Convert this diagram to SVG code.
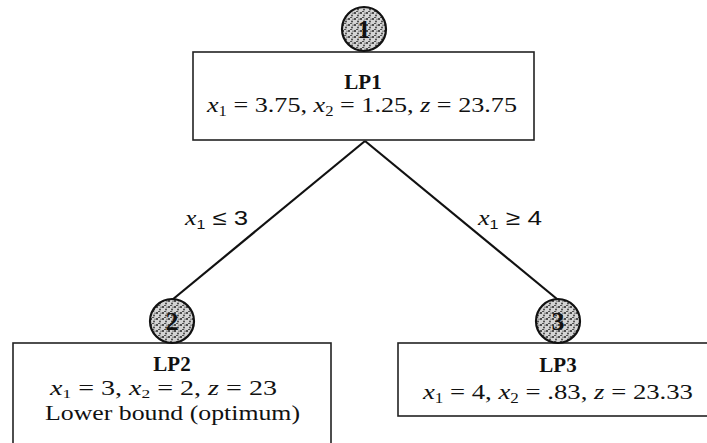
<svg xmlns="http://www.w3.org/2000/svg" width="707" height="443" viewBox="0 0 707 443">
<style>
.box{fill:#fff;stroke:#222;stroke-width:1.6}
.edge{stroke:#111;stroke-width:2.2;fill:none}
.t{font-family:"Liberation Serif","Times New Roman",serif;font-size:22px;fill:#111}
.t2{font-size:21px}
.b{font-family:"Liberation Serif","Times New Roman",serif;font-size:21px;font-weight:bold;fill:#111}
.i{font-style:italic}
.lab{font-family:"Liberation Sans",Arial,sans-serif;font-size:21px;fill:#111}
.circ{fill:url(#stip);stroke:#111;stroke-width:2.2}
.num{font-family:"Liberation Serif",serif;font-size:26px;font-weight:bold;fill:#111;text-anchor:middle}
</style>
<defs>
<pattern id="stip" width="6" height="6" patternUnits="userSpaceOnUse">
<rect width="6" height="6" fill="#d4d4d4"/>
<circle cx="1" cy="1" r="1" fill="#222"/>
<circle cx="4" cy="3.5" r="0.9" fill="#333"/>
<rect x="2" y="5" width="2.2" height="0.9" fill="#444"/>
<rect x="4.5" y="0.5" width="1" height="1.5" fill="#555"/>
</pattern>
</defs>
<g id="connectors">
<line class="edge" x1="365" y1="141" x2="172" y2="300"/>
<line class="edge" x1="365" y1="141" x2="557" y2="299"/>
<text class="lab" x="185" y="225" textLength="63" lengthAdjust="spacingAndGlyphs"><tspan class="i" font-family="Liberation Serif">x</tspan><tspan font-size="13" dy="4">1</tspan><tspan dy="-4"> ≤ 3</tspan></text>
<text class="lab" x="478" y="225" textLength="64" lengthAdjust="spacingAndGlyphs"><tspan class="i" font-family="Liberation Serif">x</tspan><tspan font-size="13" dy="4">1</tspan><tspan dy="-4"> ≥ 4</tspan></text>
</g>
<g id="node1">
<rect class="box" x="193" y="52" width="341" height="88"/>
<circle class="circ" cx="364" cy="29" r="22"/>
<text class="num" x="364" y="38">1</text>
<text class="b" x="363" y="89" text-anchor="middle">LP1</text>
<text class="t" x="207" y="112" textLength="310" lengthAdjust="spacingAndGlyphs"><tspan class="i">x</tspan><tspan font-size="14" dy="4">1</tspan><tspan dy="-4"> = 3.75, </tspan><tspan class="i">x</tspan><tspan font-size="14" dy="4">2</tspan><tspan dy="-4"> = 1.25, </tspan><tspan class="i">z</tspan><tspan> = 23.75</tspan></text>
</g>
<g id="node2">
<rect class="box" x="13" y="343" width="318" height="110"/>
<circle class="circ" cx="172" cy="321" r="22"/>
<text class="num" x="172" y="330">2</text>
<text class="b" x="172" y="371" text-anchor="middle">LP2</text>
<text class="t t2" x="50" y="395" textLength="227" lengthAdjust="spacingAndGlyphs"><tspan class="i">x</tspan><tspan font-size="13" dy="3">1</tspan><tspan dy="-3"> = 3, </tspan><tspan class="i">x</tspan><tspan font-size="13" dy="3">2</tspan><tspan dy="-3"> = 2, </tspan><tspan class="i">z</tspan><tspan> = 23</tspan></text>
<text class="t t2" x="45" y="420" textLength="255" lengthAdjust="spacingAndGlyphs">Lower bound (optimum)</text>
</g>
<g id="node3">
<rect class="box" x="398" y="343" width="330" height="73"/>
<circle class="circ" cx="558" cy="321" r="22"/>
<text class="num" x="558" y="330">3</text>
<text class="b" x="558" y="372" text-anchor="middle">LP3</text>
<text class="t" x="423" y="399" textLength="270" lengthAdjust="spacingAndGlyphs"><tspan class="i">x</tspan><tspan font-size="14" dy="4">1</tspan><tspan dy="-4"> = 4, </tspan><tspan class="i">x</tspan><tspan font-size="14" dy="4">2</tspan><tspan dy="-4"> = .83, </tspan><tspan class="i">z</tspan><tspan> = 23.33</tspan></text>
</g>
</svg>
